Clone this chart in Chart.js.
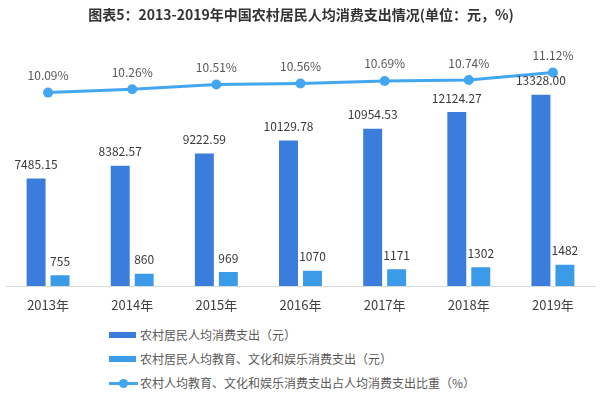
<!DOCTYPE html>
<html lang="zh">
<head>
  <meta charset="UTF-8">
  <title>2013-2019年中国农村居民人均消费支出情况</title>
  <style>
    body {
      margin: 0;
      background: #fff;
      font-family: "Noto Sans CJK SC", sans-serif;
    }
    .wrap {
      position: relative;
      width: 600px;
      height: 398px;
    }
    .chart-box {
      position: absolute;
      left: 0;
      top: 0;
      width: 600px;
      height: 314px;
    }
    .legend {
      position: absolute;
      left: 109px;
      top: 323px;
      font-size: 12px;
      color: #595959;
    }
    .legend-item {
      height: 24px;
      line-height: 24px;
      display: flex;
      align-items: center;
    }
    .swatch {
      width: 27px;
      height: 6px;
      margin-right: 4px;
    }
    .line-swatch {
      position: relative;
      width: 29px;
      height: 3px;
      margin-right: 2px;
    }
    .line-swatch span {
      position: absolute;
      left: 10px;
      top: -3px;
      width: 9px;
      height: 9px;
      border-radius: 50%;
    }
  </style>
</head>
<body>
  <div class="wrap">
    <div class="chart-box"><canvas id="chart"></canvas></div>
    <div class="legend" id="legend"></div>
  </div>

  <script src="https://cdn.jsdelivr.net/npm/chart.js"></script>
  <script>
    // data
    const years = ["2013年", "2014年", "2015年", "2016年", "2017年", "2018年", "2019年"];
    const consumption = [7485.15, 8382.57, 9222.59, 10129.78, 10954.53, 12124.27, 13328.00];
    const eduSpending = [755, 860, 969, 1070, 1171, 1302, 1482];
    const eduShare = [10.09, 10.26, 10.51, 10.56, 10.69, 10.74, 11.12];

    const seriesNames = [
      "农村居民人均消费支出（元）",
      "农村居民人均教育、文化和娱乐消费支出（元）",
      "农村人均教育、文化和娱乐消费支出占人均消费支出比重（%）"
    ];

    const darkBlue = "#3b7ddd";
    const lightBlue = "#3c9be9";
    const lineBlue = "#42a7f0";
    const font = "'Noto Sans CJK SC', sans-serif";

    // value labels above bars and points
    const valueLabels = {
      id: "valueLabels",
      afterDatasetsDraw(chart) {
        const ctx = chart.ctx;
        ctx.save();
        ctx.textAlign = "center";
        ctx.textBaseline = "middle";
        chart.data.datasets.forEach((ds, i) => {
          const meta = chart.getDatasetMeta(i);
          meta.data.forEach((el, j) => {
            const v = ds.data[j];
            let text, gap;
            if (i === 0) { text = v.toFixed(2); gap = 14; ctx.fillStyle = "#3a3a3a"; }
            else if (i === 1) { text = String(v); gap = 14; ctx.fillStyle = "#3a3a3a"; }
            else { text = v.toFixed(2) + "%"; gap = 17; ctx.fillStyle = "#595959"; }
            ctx.font = "12px " + font;
            ctx.fillText(text, el.x, el.y - gap);
          });
        });
        ctx.restore();
      }
    };

    new Chart(document.getElementById("chart"), {
      type: "bar",
      data: {
        labels: years,
        datasets: [{
          label: seriesNames[0],
          data: consumption,
          backgroundColor: darkBlue,
          yAxisID: "y",
          order: 1,
          categoryPercentage: 0.57,
          barPercentage: 0.79
        }, {
          label: seriesNames[1],
          data: eduSpending,
          backgroundColor: lightBlue,
          yAxisID: "y",
          order: 2,
          categoryPercentage: 0.57,
          barPercentage: 0.79
        }, {
          type: "line",
          label: seriesNames[2],
          data: eduShare,
          borderColor: lineBlue,
          backgroundColor: lineBlue,
          borderWidth: 3,
          pointRadius: 5,
          pointBorderWidth: 0,
          tension: 0,
          yAxisID: "y2",
          order: 0
        }]
      },
      options: {
        responsive: true,
        maintainAspectRatio: false,
        animation: false,
        layout: { padding: { left: 6, right: 4, top: 0, bottom: 1 } },
        plugins: {
          legend: { display: false },
          tooltip: { enabled: false },
          title: {
            display: true,
            text: "图表5：2013-2019年中国农村居民人均消费支出情况(单位：元，%)",
            color: "#333",
            font: { family: font, size: 14, weight: "bold" },
            padding: { top: 6, bottom: 12 }
          }
        },
        scales: {
          x: {
            grid: { display: false, drawTicks: false },
            border: { display: true, color: "#d9d9d9", width: 1 },
            ticks: { color: "#404040", font: { family: font, size: 13 }, padding: 11 },
            afterFit(scale) { scale.height = 27; }
          },
          y: {
            display: false,
            min: 0,
            max: 17500
          },
          y2: {
            display: false,
            min: 0.15,
            max: 13.06
          }
        }
      },
      plugins: [valueLabels]
    });

    // legend below the chart
    const legend = document.getElementById("legend");
    [darkBlue, lightBlue].forEach((c, i) => {
      legend.innerHTML += `<div class="legend-item"><div class="swatch" style="background:${c}"></div>${seriesNames[i]}</div>`;
    });
    legend.innerHTML += `<div class="legend-item"><div class="line-swatch" style="background:${lineBlue}"><span style="background:${lineBlue}"></span></div>${seriesNames[2]}</div>`;
  </script>
</body>
</html>
